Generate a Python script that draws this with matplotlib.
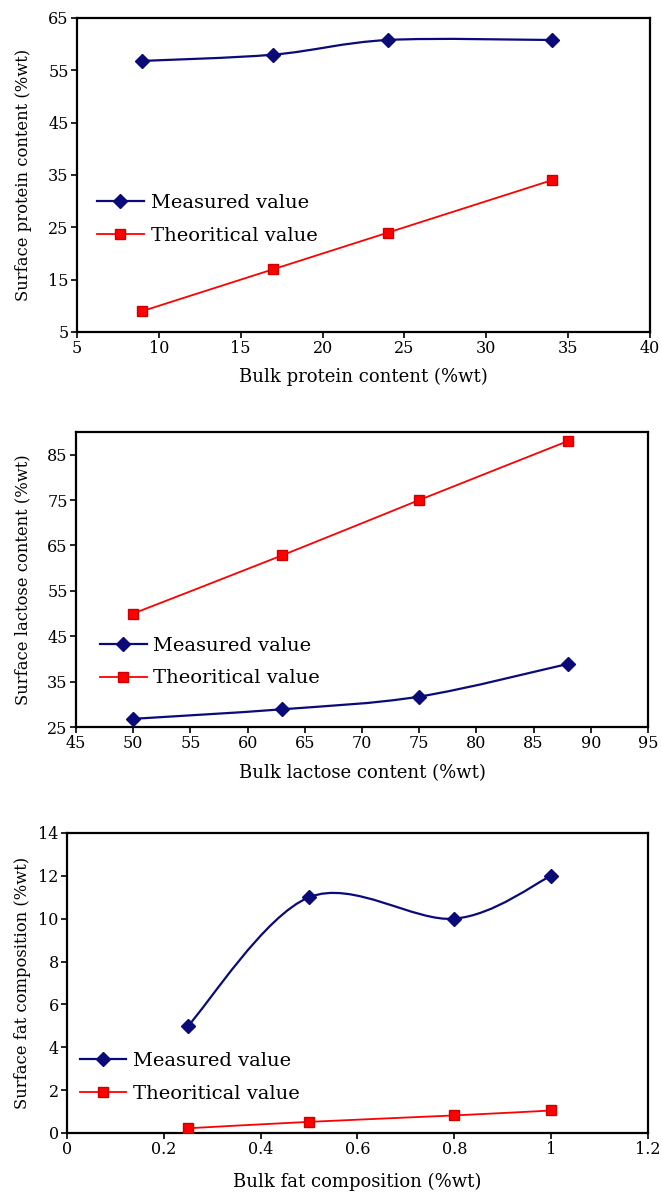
import matplotlib
matplotlib.use("Agg")
import matplotlib.pyplot as plt
from matplotlib.path import Path
from matplotlib.patches import PathPatch
from matplotlib.lines import Line2D
import numpy as np

# ---------------- data ----------------
protein_x = [9, 17, 24, 34]
protein_measured = [56.8, 58.0, 60.8, 60.8]
protein_theoretical = [9, 17, 24, 34]

lactose_x = [50, 63, 75, 88]
lactose_measured = [26.8, 28.9, 31.7, 38.9]
lactose_theoretical = [50, 62.8, 75, 88]

fat_x = [0.25, 0.5, 0.8, 1.0]
fat_measured = [5.0, 11.0, 10.0, 12.0]
fat_theoretical = [0.22, 0.52, 0.82, 1.05]

series_labels = ["Measured value", "Theoritical value"]

protein_xticks = [5, 10, 15, 20, 25, 30, 35, 40]
protein_yticks = [5, 15, 25, 35, 45, 55, 65]
lactose_xticks = [45, 50, 55, 60, 65, 70, 75, 80, 85, 90, 95]
lactose_yticks = [25, 35, 45, 55, 65, 75, 85]
fat_xticks = [0, 0.2, 0.4, 0.6, 0.8, 1.0, 1.2]
fat_xticklabels = ["0", "0.2", "0.4", "0.6", "0.8", "1", "1.2"]
fat_yticks = [0, 2, 4, 6, 8, 10, 12, 14]

# ---------------- style ----------------
FONT = ["DejaVu Serif"]
plt.rcParams['font.family'] = FONT
NAVY = "#0a0a78"
RED = "#ff0000"
TICK_FS = 11.5
XLABEL_FS = 13
YLABEL_FS = 11.8
LEG_FS = 14


def smooth_path(xs, ys):
    """Excel-like smoothed line (Catmull-Rom as cubic Bezier) through the data."""
    pts = np.column_stack([xs, ys]).astype(float)
    n = len(pts)
    verts = [pts[0]]
    codes = [Path.MOVETO]
    for i in range(n - 1):
        p0 = pts[i - 1] if i > 0 else pts[i]
        p1 = pts[i]
        p2 = pts[i + 1]
        p3 = pts[i + 2] if i + 2 < n else pts[i + 1]
        c1 = p1 + (p2 - p0) / 6.0
        c2 = p2 - (p3 - p1) / 6.0
        verts += [c1, c2, p2]
        codes += [Path.CURVE4] * 3
    return Path(verts, codes)


def draw_panel(ax, x, meas, theo, xlim, ylim, xticks, yticks, xlabel, ylabel,
               leg_anchor, ylabel_x, xlabel_y, xticklabels=None):
    # measured (smoothed)
    ax.add_patch(PathPatch(smooth_path(x, meas), fill=False, edgecolor=NAVY,
                           lw=1.6, zorder=3))
    ax.plot(x, meas, linestyle="none", marker="D", ms=7, color=NAVY, zorder=4)
    # theoretical
    ax.add_patch(PathPatch(smooth_path(x, theo), fill=False, edgecolor=RED,
                           lw=1.3, zorder=3))
    ax.plot(x, theo, linestyle="none", marker="s", ms=7.5, color=RED,
            markeredgecolor="#cc0000", zorder=4)

    ax.set_xlim(*xlim)
    ax.set_ylim(*ylim)
    ax.set_xticks(xticks)
    if xticklabels is not None:
        ax.set_xticklabels(xticklabels)
    ax.set_yticks(yticks)
    ax.tick_params(direction="out", length=4, width=1.2, labelsize=TICK_FS,
                   colors="black", pad=2)
    for sp in ax.spines.values():
        sp.set_linewidth(1.6)
        sp.set_color("black")

    ax.set_xlabel(xlabel, fontsize=XLABEL_FS, va="center")
    ax.set_ylabel(ylabel, fontsize=YLABEL_FS, va="center")
    ax.xaxis.set_label_coords(0.5, xlabel_y)
    ax.yaxis.set_label_coords(ylabel_x, 0.5)

    handles = [
        Line2D([], [], color=NAVY, lw=1.6, marker="D", ms=7),
        Line2D([], [], color=RED, lw=1.3, marker="s", ms=7.5,
               markeredgecolor="#cc0000"),
    ]
    ax.legend(handles, series_labels, loc="center left",
              bbox_to_anchor=leg_anchor, frameon=False, fontsize=LEG_FS,
              handlelength=2.4, handletextpad=0.35, labelspacing=0.75,
              borderpad=0, borderaxespad=0)


fig = plt.figure(figsize=(6.62, 11.92), dpi=100)
fig.patch.set_facecolor("white")

ax1 = fig.add_axes([0.1163, 0.7215, 0.8656, 0.2634])
ax2 = fig.add_axes([0.1148, 0.3901, 0.8640, 0.2475])
ax3 = fig.add_axes([0.1012, 0.0495, 0.8776, 0.2517])

draw_panel(ax1, protein_x, protein_measured, protein_theoretical,
           (5, 40), (5, 65), protein_xticks, protein_yticks,
           "Bulk protein content (%wt)", "Surface protein content (%wt)",
           (0.035, 0.358), -0.094, -0.143)

draw_panel(ax2, lactose_x, lactose_measured, lactose_theoretical,
           (45, 95), (25, 90), lactose_xticks, lactose_yticks,
           "Bulk lactose content (%wt)", "Surface lactose content (%wt)",
           (0.042, 0.22), -0.093, -0.156)

draw_panel(ax3, fat_x, fat_measured, fat_theoretical,
           (0, 1.2), (0, 14), fat_xticks, fat_yticks,
           "Bulk fat composition (%wt)", "Surface fat composition (%wt)",
           (0.022, 0.185), -0.076, -0.163, xticklabels=fat_xticklabels)

fig.savefig("out.png", dpi=100, facecolor="white")
